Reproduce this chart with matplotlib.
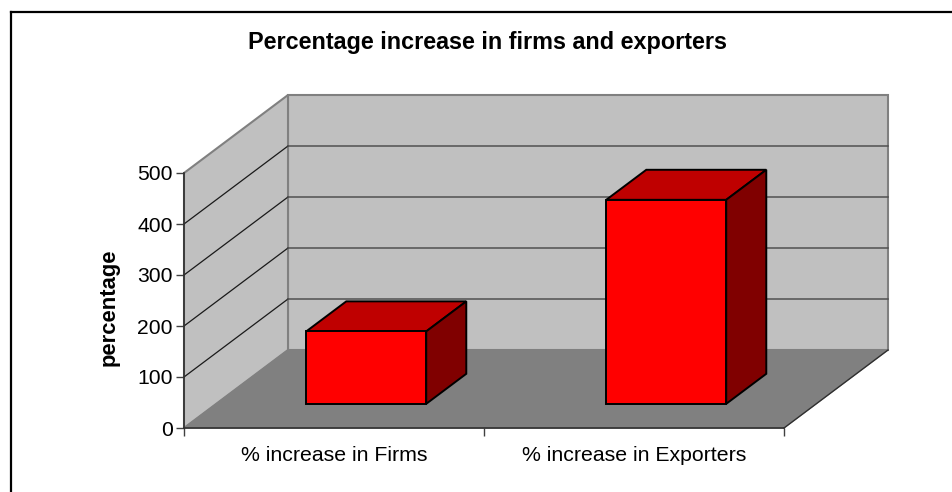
import matplotlib
matplotlib.use("Agg")
import matplotlib.pyplot as plt
from matplotlib.patches import Polygon

plt.rcParams['font.family'] = ['Liberation Sans', 'DejaVu Sans']

categories = ['% increase in Firms', '% increase in Exporters']
values = [142, 400]
y_ticks = [0, 100, 200, 300, 400, 500]

W, H = 953, 492
LEFT, RIGHT, TOP, BOTTOM = 184, 784, 173, 428

# oblique projection: depth 0 is the front plane, depth 1 the back wall
DEPTH_X = 104 / 300
DEPTH_Y = 78 / (BOTTOM - TOP) * 500
BAR_WIDTH = 0.4
BAR_DEPTH = (0.31, 0.695)


def project(x, v, d):
    return (x + d * DEPTH_X, v + d * DEPTH_Y)


def face(ax, corners, color, edge, lw=1.4, z=2):
    pts = [project(*c) for c in corners]
    ax.add_patch(Polygon(pts, closed=True, facecolor=color, edgecolor=edge,
                         linewidth=lw, zorder=z, clip_on=False, joinstyle='miter'))


fig = plt.figure(figsize=(W / 100, H / 100), dpi=100)
ax = fig.add_axes([LEFT / W, 1 - BOTTOM / H, (RIGHT - LEFT) / W, (BOTTOM - TOP) / H])
ax.set_xlim(0, 2)
ax.set_ylim(0, 500)
ax.patch.set_visible(False)

# walls and floor
face(ax, [(0, 0, 1), (2, 0, 1), (2, 500, 1), (0, 500, 1)], '#c0c0c0', '#808080', 1.5, 1)
face(ax, [(0, 0, 0), (0, 0, 1), (0, 500, 1), (0, 500, 0)], '#c0c0c0', '#808080', 1.5, 1)
face(ax, [(0, 0, 0), (2, 0, 0), (2, 0, 1), (0, 0, 1)], '#808080', '#808080', 0.8, 1.1)
floor_edge = [project(2, 0, 0), project(2, 0, 1)]
ax.plot(*zip(*floor_edge), color='#303030', lw=1.0, zorder=1.2, clip_on=False)

# gridlines run along the side wall and across the back wall
for v in y_ticks[1:-1]:
    side = [project(0, v, 0), project(0, v, 1)]
    back = [project(0, v, 1), project(2, v, 1)]
    ax.plot(*zip(*side), color='#1a1a1a', lw=0.9, zorder=1.5, clip_on=False)
    ax.plot(*zip(*back), color='#505050', lw=1.1, zorder=1.5, clip_on=False)

# the bars, each one a front, top and side face
for i, val in enumerate(values):
    x0 = i + 0.5 - BAR_WIDTH / 2
    x1 = x0 + BAR_WIDTH
    d0, d1 = BAR_DEPTH
    face(ax, [(x0, val, d0), (x1, val, d0), (x1, val, d1), (x0, val, d1)], '#bf0000', 'black')
    face(ax, [(x1, 0, d0), (x1, 0, d1), (x1, val, d1), (x1, val, d0)], '#800000', 'black')
    face(ax, [(x0, 0, d0), (x1, 0, d0), (x1, val, d0), (x0, val, d0)], '#ff0000', 'black', z=3)

ax.set_yticks(y_ticks)
ax.set_xticks([0, 1, 2])
ax.set_xticklabels([])
ax.set_xticks([0.5, 1.5], minor=True)
ax.set_xticklabels(categories, minor=True)
ax.tick_params(axis='x', which='minor', length=0, labelsize=15.3, pad=13)
ax.tick_params(axis='x', which='major', length=6, width=1, color='#404040')
ax.tick_params(axis='y', length=6, width=1, color='#404040', labelsize=15.2, pad=2)
for name in ['top', 'right']:
    ax.spines[name].set_visible(False)
for name in ['left', 'bottom']:
    ax.spines[name].set_color('#303030')
    ax.spines[name].set_linewidth(1.2)
    ax.spines[name].set_zorder(1.6)

fig.text(109 / W, 1 - 307 / H, 'percentage', rotation=90, fontsize=15.8,
         fontweight='bold', ha='center', va='center')
fig.text(488 / W, 1 - 42.5 / H, 'Percentage increase in firms and exporters',
         fontsize=16.8, fontweight='bold', ha='center', va='center')

# frame around the chart, open at the bottom and right where it runs off the page
fig.add_artist(plt.Line2D([11.5 / W, 11.5 / W], [0, 1 - 11.5 / H], color='black', lw=1.6))
fig.add_artist(plt.Line2D([11.5 / W, 1], [1 - 11.5 / H, 1 - 11.5 / H], color='black', lw=1.6))

fig.savefig('out.png', dpi=100)
